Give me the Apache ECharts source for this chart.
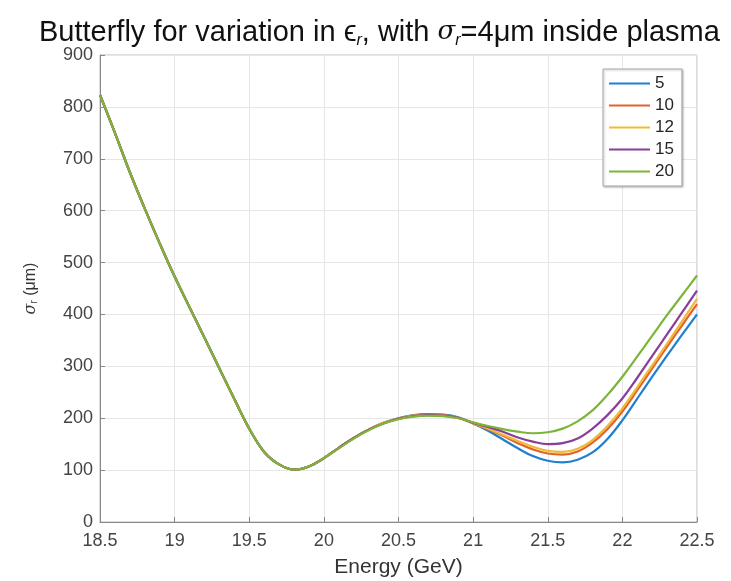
<!DOCTYPE html>
<html>
<head>
<meta charset="utf-8">
<script src="https://cdn.jsdelivr.net/npm/echarts@6/dist/echarts.min.js"></script>
<style>
html,body{margin:0;padding:0;background:#fff;}
#chart{width:731px;height:581px;}
</style>
</head>
<body>
<div id="chart"></div>
<script>
// Energy grid (GeV)
const energy = [18.5,18.6,18.7,18.8,18.9,19.0,19.1,19.2,19.3,19.4,19.5,19.6,19.7,19.8,19.9,20.0,20.1,20.2,20.3,20.4,20.5,20.6,20.7,20.8,20.9,21.0,21.1,21.2,21.3,21.4,21.5,21.6,21.7,21.8,21.9,22.0,22.1,22.2,22.3,22.4,22.5];
// sigma_r (um) for each epsilon_r
const sigma5  = [823,750,674,604,537,473,414,355,296,237,180,135,111,101,107,123,143,162,178,191,200,206,208,207,202,190,176,159,142,127,118,115,120,134,160,196,238,280,321,361,400];
const sigma10 = [823,750,674,604,537,473,414,355,296,237,180,135,111,101,107,123,143,162,178,191,200,205,207,206,201,190,179,166,152,140,132,130,136,153,179,213,254,296,338,379,420];
const sigma12 = [823,750,674,604,537,473,414,355,296,237,180,135,111,101,107,123,143,162,178,191,199,205,206,205,201,190,180,168,156,145,137,135,141,158,185,219,260,302,344,387,430];
const sigma15 = [823,750,674,604,537,473,414,355,296,237,180,135,111,101,107,123,143,162,178,190,199,204,206,205,201,191,183,174,163,155,150,152,161,180,206,238,278,320,362,404,446];
const sigma20 = [823,750,674,604,537,473,414,355,296,237,180,135,111,101,107,123,142,161,177,190,198,203,205,204,200,192,185,179,174,171,173,180,194,215,245,280,319,359,399,437,475];
const seriesNames = ['5','10','12','15','20'];
const seriesValues = [sigma5, sigma10, sigma12, sigma15, sigma20];
const colors = ['#1f7fd0','#e0632a','#efb93a','#8a3d9a','#7db43a'];

const chart = echarts.init(document.getElementById('chart'), null, {renderer:'canvas'});
const font = 'Liberation Sans, Arial, Helvetica, sans-serif';

const option = {
  animation: false,
  backgroundColor: '#fff',
  color: colors,
  title: {
    text: 'Butterfly for variation in ϵ{sub|r}, with {it|σ}{sub|r}=4μm inside plasma',
    left: 34,
    top: 11,
    textStyle: {
      fontFamily: font, fontSize: 29, fontWeight: 'normal', color: '#111',
      lineHeight: 33,
      rich: {
        sub: {fontFamily: font, fontSize: 16, fontStyle: 'italic', color: '#111', verticalAlign: 'bottom', lineHeight: 33},
        it: {fontFamily: 'DejaVu Serif, serif', fontSize: 26, fontStyle: 'italic', color: '#111', lineHeight: 33}
      }
    }
  },
  legend: {
    orient: 'vertical',
    left: 603,
    top: 69,
    data: seriesNames,
    icon: 'rect',
    itemWidth: 41,
    itemHeight: 2,
    itemGap: 5,
    padding: [6, 8, 6, 6],
    borderColor: '#aaa',
    borderWidth: 1,
    backgroundColor: '#fff',
    textStyle: {fontFamily: font, fontSize: 17, color: '#262626', padding: [0,0,0,0]},
    shadowColor: 'rgba(0,0,0,0.25)',
    shadowBlur: 2,
    shadowOffsetX: 1,
    shadowOffsetY: 1
  },
  grid: {left: 100, right: 34, top: 55, bottom: 59, show: true, borderColor: '#bbb', borderWidth: 1, outerBoundsMode: 'none', containLabel: false},
  xAxis: {
    type: 'value', min: 18.5, max: 22.5, interval: 0.5,
    name: 'Energy (GeV)', nameLocation: 'middle', nameGap: 35,
    nameTextStyle: {fontFamily: font, fontSize: 21, color: '#333'},
    axisLine: {show: true, lineStyle: {color: '#888'}},
    axisTick: {show: true, inside: true, length: 5, lineStyle: {color: '#888'}},
    axisLabel: {fontFamily: font, fontSize: 18, color: '#444', margin: 10},
    splitLine: {show: true, lineStyle: {color: '#e6e6e6'}}
  },
  yAxis: {
    type: 'value', min: 0, max: 900, interval: 100,
    name: '{it|σ}{sub|r} (μm)', nameLocation: 'middle', nameGap: 61, nameRotate: 90,
    nameTextStyle: {fontFamily: font, fontSize: 16, color: '#333',
      rich: {it: {fontFamily: 'DejaVu Serif, serif', fontStyle: 'italic', fontSize: 16, color: '#333'},
             sub: {fontFamily: font, fontSize: 10, color: '#333', verticalAlign: 'bottom'}}},
    axisLine: {show: true, lineStyle: {color: '#888'}},
    axisTick: {show: true, inside: true, length: 5, lineStyle: {color: '#888'}},
    axisLabel: {fontFamily: font, fontSize: 18, color: '#444', margin: 7},
    splitLine: {show: true, lineStyle: {color: '#e6e6e6'}}
  },
  series: seriesNames.map((n, i) => ({
    name: n,
    type: 'line',
    smooth: 0.4,
    showSymbol: false,
    symbol: 'none',
    lineStyle: {width: 2.2, color: colors[i]},
    itemStyle: {color: colors[i]},
    data: energy.map((e, k) => [e, seriesValues[i][k]])
  }))
};
chart.setOption(option);
</script>
</body>
</html>
